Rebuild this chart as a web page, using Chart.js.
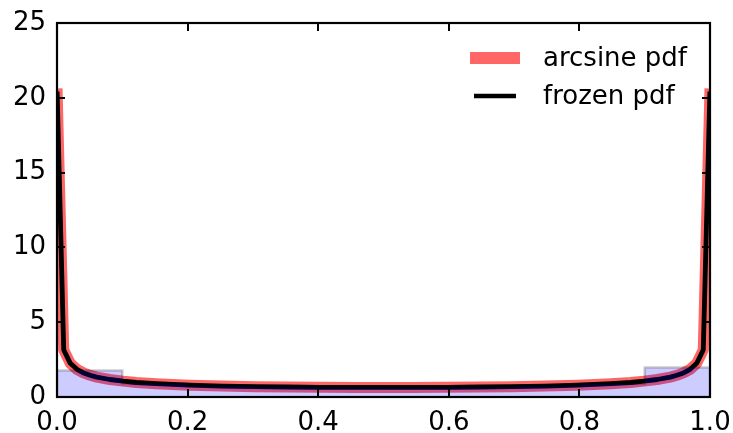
<!DOCTYPE html>
<html>
<head>
<meta charset="utf-8">
<script src="https://cdn.jsdelivr.net/npm/chart.js@4.4.1/dist/chart.umd.min.js"></script>
<style>
  html, body { margin: 0; padding: 0; background: #ffffff; }
  #wrap { width: 733px; height: 433px; }
</style>
</head>
<body>
<div id="wrap"><canvas id="c" width="733" height="433"></canvas></div>
<script>
// ---- data ----
const xValues = [0.000247, 0.0103, 0.0204, 0.0305, 0.0406, 0.0507, 0.0608, 0.0810, 0.1012, 0.1214, 0.1517,
  0.2022, 0.2527, 0.3032, 0.3537, 0.4042, 0.4547, 0.5000, 0.5453, 0.5958, 0.6463, 0.6968, 0.7473, 0.7978,
  0.8483, 0.8786, 0.8988, 0.9190, 0.9392, 0.9493, 0.9594, 0.9695, 0.9796, 0.9897, 0.999753];
const arcsinePdf = [20.26, 3.15, 2.25, 1.85, 1.61, 1.45, 1.33, 1.17, 1.06, 0.97, 0.89,
  0.79, 0.73, 0.69, 0.67, 0.65, 0.64, 0.64, 0.64, 0.65, 0.67, 0.69, 0.73, 0.79,
  0.89, 0.97, 1.06, 1.17, 1.33, 1.45, 1.61, 1.85, 2.25, 3.15, 20.26];
const frozenPdf = [20.26, 3.15, 2.25, 1.85, 1.61, 1.45, 1.33, 1.17, 1.06, 0.97, 0.89,
  0.79, 0.73, 0.69, 0.67, 0.65, 0.64, 0.64, 0.64, 0.65, 0.67, 0.69, 0.73, 0.79,
  0.89, 0.97, 1.06, 1.17, 1.33, 1.45, 1.61, 1.85, 2.25, 3.15, 20.26];
const binEdges = [0.0, 0.1, 0.2, 0.3, 0.4, 0.5, 0.6, 0.7, 0.8, 0.9, 1.0];
const binDensity = [1.77, 0.90, 0.74, 0.68, 0.63, 0.62, 0.66, 0.73, 0.88, 1.97];
const xTicks = [0.0, 0.2, 0.4, 0.6, 0.8, 1.0];
const yTicks = [0, 5, 10, 15, 20, 25];
const seriesLabels = ['arcsine pdf', 'frozen pdf'];

// ---- build library structures ----
const linePts = (ys) => xValues.map((x, i) => ({ x: x, y: ys[i] }));
const histPts = [{ x: binEdges[0], y: 0 }];
binDensity.forEach((h, i) => histPts.push({ x: binEdges[i], y: h }));
histPts.push({ x: binEdges[binEdges.length - 1], y: 0 });

const FONT = 'DejaVu Sans';

const frameAndLegend = {
  id: 'frameAndLegend',
  afterDatasetsDraw(chart) {
    const ctx = chart.ctx;
    const a = chart.chartArea;
    const xs = chart.scales.x, ys = chart.scales.y;
    ctx.save();
    ctx.strokeStyle = '#000';
    ctx.lineWidth = 2;
    const tl = 8;
    ctx.beginPath();
    xTicks.forEach(v => {
      const px = Math.round(xs.getPixelForValue(v));
      ctx.moveTo(px, a.bottom); ctx.lineTo(px, a.bottom - tl);
      ctx.moveTo(px, a.top); ctx.lineTo(px, a.top + tl);
    });
    yTicks.forEach(v => {
      const py = Math.round(ys.getPixelForValue(v));
      ctx.moveTo(a.left, py); ctx.lineTo(a.left + tl, py);
      ctx.moveTo(a.right, py); ctx.lineTo(a.right - tl, py);
    });
    ctx.stroke();
    ctx.lineWidth = 2.2;
    ctx.strokeRect(a.left, a.top, a.right - a.left, a.bottom - a.top);

    // legend (frameless, upper right)
    const ds = chart.data.datasets;
    const rows = [
      { y: a.top + 35, x0: a.right - 240, x1: a.right - 190, color: ds[0].borderColor, w: 12 },
      { y: a.top + 73, x0: a.right - 236, x1: a.right - 194, color: ds[1].borderColor, w: 4.5 }
    ];
    ctx.font = '26px "' + FONT + '"';
    ctx.textBaseline = 'middle';
    ctx.textAlign = 'left';
    rows.forEach((r, i) => {
      ctx.beginPath();
      ctx.lineCap = 'butt';
      ctx.strokeStyle = r.color;
      ctx.lineWidth = r.w;
      ctx.moveTo(r.x0, r.y); ctx.lineTo(r.x1, r.y);
      ctx.stroke();
      ctx.fillStyle = '#000';
      ctx.fillText(seriesLabels[i], a.right - 167, r.y + 1);
    });
    ctx.restore();
  }
};

new Chart(document.getElementById('c'), {
  type: 'line',
  data: {
    datasets: [
      {
        label: seriesLabels[0], data: linePts(arcsinePdf),
        borderColor: 'rgba(255,0,0,0.6)', borderWidth: 11,
        borderCapStyle: 'square', borderJoinStyle: 'round',
        pointRadius: 0, tension: 0, fill: false, clip: 0, order: 2
      },
      {
        label: seriesLabels[1], data: linePts(frozenPdf),
        borderColor: '#000000', borderWidth: 4.8,
        borderCapStyle: 'square', borderJoinStyle: 'round',
        pointRadius: 0, tension: 0, fill: false, clip: 0, order: 1
      },
      {
        label: 'histogram', data: histPts, stepped: 'before',
        borderColor: 'rgba(0,0,0,0.2)', borderWidth: 2.5,
        backgroundColor: 'rgba(0,0,255,0.2)', fill: 'origin',
        pointRadius: 0, tension: 0, clip: 0, order: 0
      }
    ]
  },
  options: {
    responsive: false,
    animation: false,
    devicePixelRatio: 1,
    layout: { padding: { left: 0, top: 23, right: 23, bottom: 0 } },
    plugins: { legend: { display: false }, tooltip: { enabled: false } },
    scales: {
      x: {
        type: 'linear', min: 0, max: 1,
        grid: { display: false, drawTicks: false },
        border: { display: false },
        afterBuildTicks: (s) => { s.ticks = xTicks.map(v => ({ value: v })); },
        afterFit: (s) => { s.height = 36; s.paddingLeft = 0; s.paddingRight = 0; },
        ticks: {
          autoSkip: false, maxRotation: 0, padding: 11, color: '#000',
          font: { family: FONT, size: 26 },
          callback: (v) => Number(v).toFixed(1)
        }
      },
      y: {
        type: 'linear', min: 0, max: 25,
        grid: { display: false, drawTicks: false },
        border: { display: false },
        afterBuildTicks: (s) => { s.ticks = yTicks.map(v => ({ value: v })); },
        afterFit: (s) => { s.width = 57; s.paddingTop = 0; s.paddingBottom = 0; },
        ticks: {
          autoSkip: false, padding: 11, color: '#000',
          font: { family: FONT, size: 26 },
          callback: (v) => String(v)
        }
      }
    }
  },
  plugins: [frameAndLegend]
});
</script>
</body>
</html>
